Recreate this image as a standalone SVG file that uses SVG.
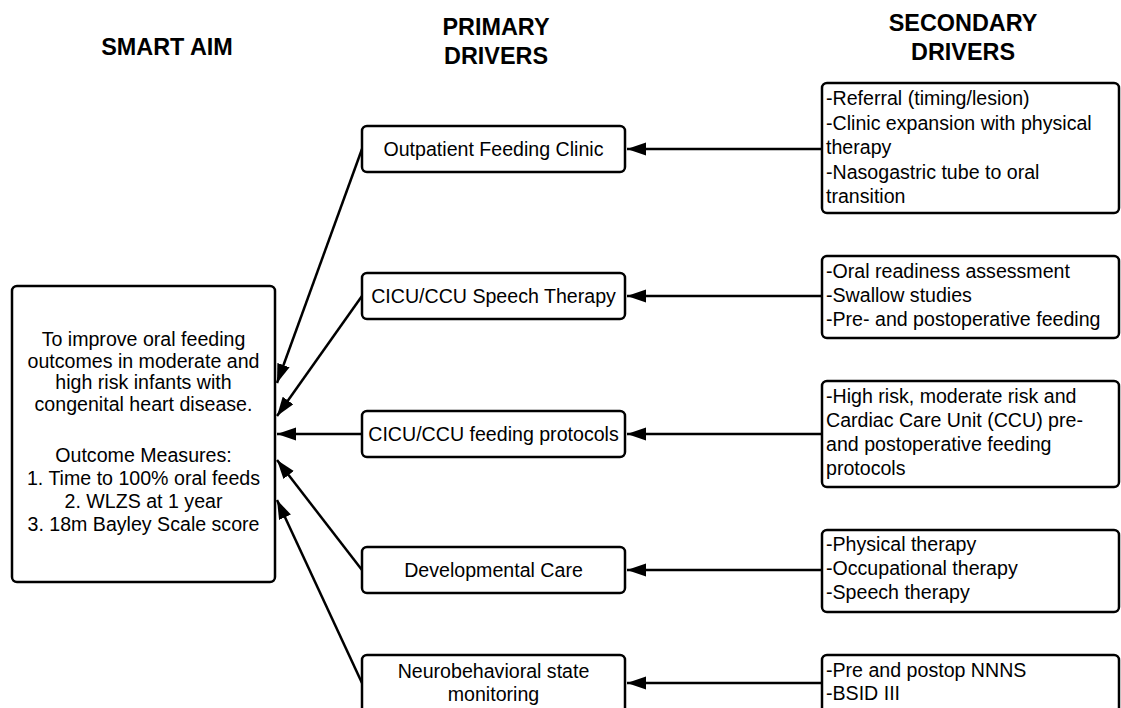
<svg xmlns="http://www.w3.org/2000/svg" width="1121" height="708" viewBox="0 0 1121 708">
<style>
  .hdr { font-family: "Liberation Sans", Arial, sans-serif; font-weight: bold; font-size: 23.4px; fill: #000; text-anchor: middle; }
  .txt { font-family: "Liberation Sans", Arial, sans-serif; font-size: 19.6px; fill: #000; }
  .ctr { text-anchor: middle; }
  .box { fill: #fff; stroke: #000; stroke-width: 2.5; }
  .con { stroke: #000; stroke-width: 2.5; fill: none; marker-end: url(#arrow); }
</style>
<defs>
  <marker id="arrow" markerUnits="userSpaceOnUse" markerWidth="20" markerHeight="14" refX="19" refY="6.5" orient="auto">
    <path d="M0,0 L19,6.5 L0,13 Z" fill="#000"/>
  </marker>
</defs>
<rect width="1121" height="708" fill="#fff"/>

<g id="headers">
  <text class="hdr" x="167" y="55">SMART AIM</text>
  <text class="hdr" x="496" y="35">PRIMARY</text>
  <text class="hdr" x="496" y="64">DRIVERS</text>
  <text class="hdr" x="963" y="31">SECONDARY</text>
  <text class="hdr" x="963" y="60">DRIVERS</text>
</g>

<g id="connectors">
  <line class="con" x1="822" y1="149" x2="627" y2="149"/>
  <line class="con" x1="822" y1="296" x2="627" y2="296"/>
  <line class="con" x1="822" y1="434" x2="627" y2="434"/>
  <line class="con" x1="822" y1="570" x2="627" y2="570"/>
  <line class="con" x1="822" y1="683" x2="627" y2="683"/>
  <line class="con" x1="362" y1="149" x2="277" y2="383"/>
  <line class="con" x1="362" y1="296" x2="277" y2="416"/>
  <line class="con" x1="362" y1="434" x2="277" y2="434"/>
  <line class="con" x1="362" y1="570" x2="277" y2="460"/>
  <line class="con" x1="362" y1="683" x2="277" y2="500"/>
</g>

<g id="aim">
  <rect class="box" x="12" y="286" width="263" height="296" rx="5"/>
  <text class="txt ctr" x="143.5" y="346">To improve oral feeding</text>
  <text class="txt ctr" x="143.5" y="367.5">outcomes in moderate and</text>
  <text class="txt ctr" x="143.5" y="389">high risk infants with</text>
  <text class="txt ctr" x="143.5" y="410.5">congenital heart disease.</text>
  <text class="txt ctr" x="143.5" y="462">Outcome Measures:</text>
  <text class="txt ctr" x="143.5" y="485">1. Time to 100% oral feeds</text>
  <text class="txt ctr" x="143.5" y="508">2. WLZS at 1 year</text>
  <text class="txt ctr" x="143.5" y="531">3. 18m Bayley Scale score</text>
</g>

<g id="primary-1">
  <rect class="box" x="362" y="126" width="263" height="46" rx="5"/>
  <text class="txt ctr" x="493.5" y="155.5">Outpatient Feeding Clinic</text>
</g>
<g id="primary-2">
  <rect class="box" x="362" y="273" width="263" height="46" rx="5"/>
  <text class="txt ctr" x="493.5" y="302.5">CICU/CCU Speech Therapy</text>
</g>
<g id="primary-3">
  <rect class="box" x="362" y="411" width="263" height="46" rx="5"/>
  <text class="txt ctr" x="493.5" y="440.5">CICU/CCU feeding protocols</text>
</g>
<g id="primary-4">
  <rect class="box" x="362" y="547" width="263" height="46" rx="5"/>
  <text class="txt ctr" x="493.5" y="576.5">Developmental Care</text>
</g>
<g id="primary-5">
  <rect class="box" x="362" y="655" width="263" height="58" rx="5"/>
  <text class="txt ctr" x="493.5" y="678">Neurobehavioral state</text>
  <text class="txt ctr" x="493.5" y="701">monitoring</text>
</g>

<g id="secondary-1">
  <rect class="box" x="822" y="83" width="297" height="130" rx="5"/>
  <text class="txt" x="826" y="105">-Referral (timing/lesion)</text>
  <text class="txt" x="826" y="129.5">-Clinic expansion with physical</text>
  <text class="txt" x="826" y="154">therapy</text>
  <text class="txt" x="826" y="178.5">-Nasogastric tube to oral</text>
  <text class="txt" x="826" y="203">transition</text>
</g>
<g id="secondary-2">
  <rect class="box" x="822" y="256" width="297" height="82" rx="5"/>
  <text class="txt" x="826" y="278">-Oral readiness assessment</text>
  <text class="txt" x="826" y="302">-Swallow studies</text>
  <text class="txt" x="826" y="326">-Pre- and postoperative feeding</text>
</g>
<g id="secondary-3">
  <rect class="box" x="822" y="381" width="297" height="106" rx="5"/>
  <text class="txt" x="826" y="403">-High risk, moderate risk and</text>
  <text class="txt" x="826" y="427">Cardiac Care Unit (CCU) pre-</text>
  <text class="txt" x="826" y="451">and postoperative feeding</text>
  <text class="txt" x="826" y="475">protocols</text>
</g>
<g id="secondary-4">
  <rect class="box" x="822" y="530" width="297" height="82" rx="5"/>
  <text class="txt" x="826" y="551">-Physical therapy</text>
  <text class="txt" x="826" y="575">-Occupational therapy</text>
  <text class="txt" x="826" y="599">-Speech therapy</text>
</g>
<g id="secondary-5">
  <rect class="box" x="822" y="655" width="297" height="58" rx="5"/>
  <text class="txt" x="826" y="677">-Pre and postop NNNS</text>
  <text class="txt" x="826" y="700">-BSID III</text>
</g>
</svg>
